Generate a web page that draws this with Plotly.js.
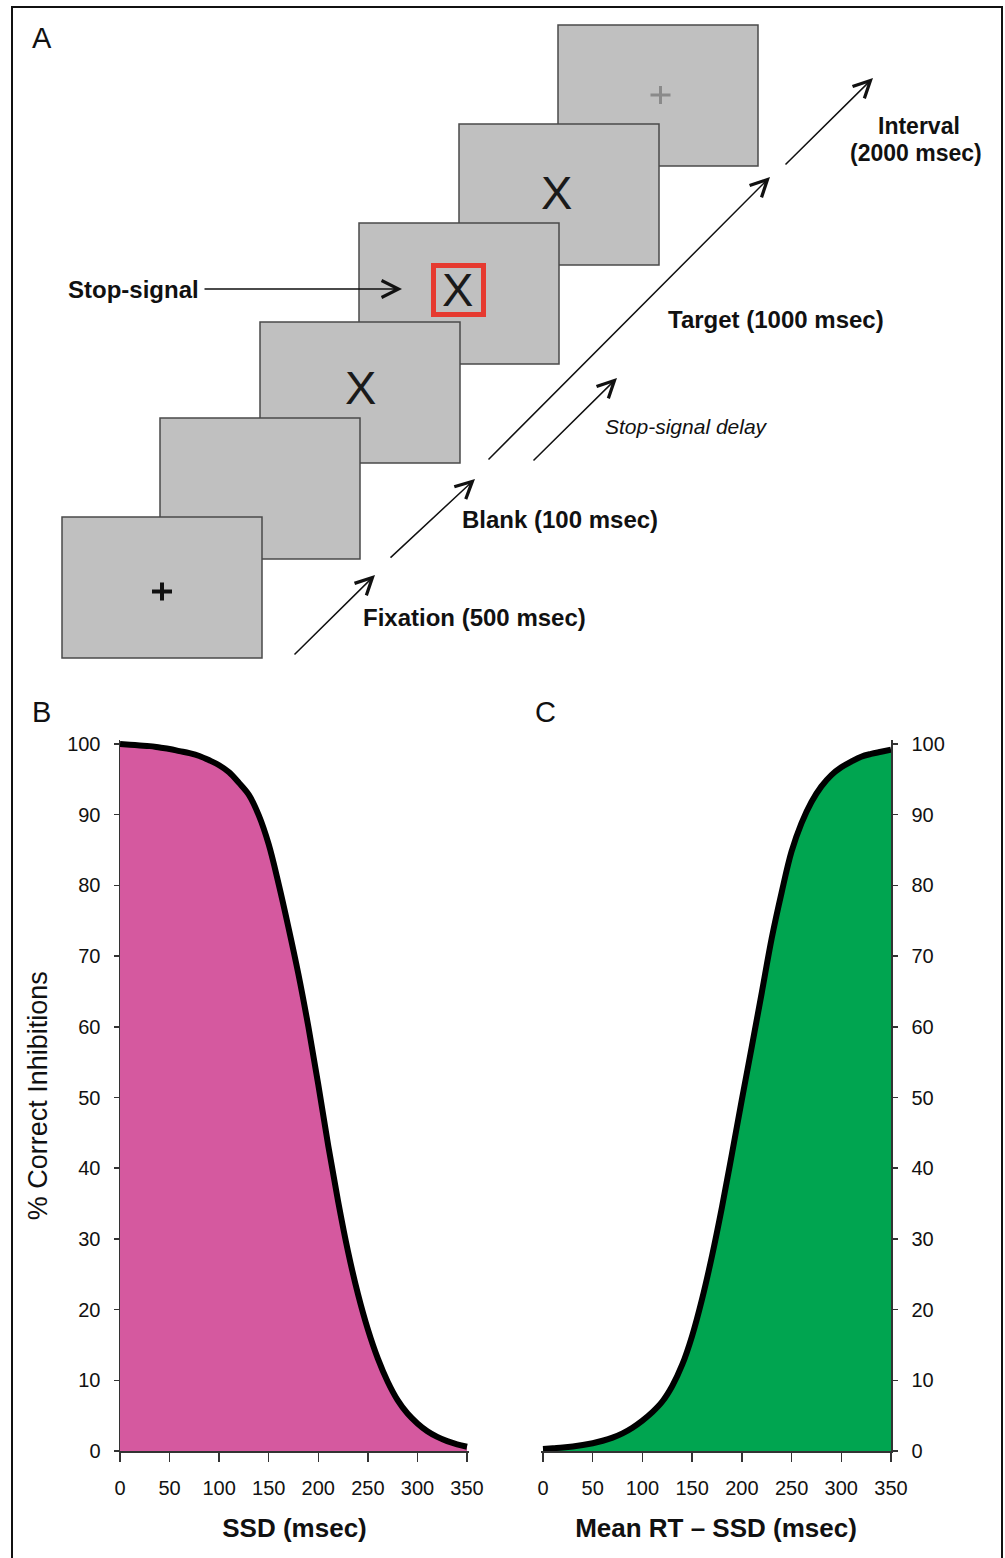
<!DOCTYPE html>
<html><head><meta charset="utf-8">
<script src="https://cdn.plot.ly/plotly-3.0.1.min.js"></script>
<style>html,body{margin:0;padding:0;background:#fff;}#chart{width:1005px;height:1558px;}</style>
</head><body><div id="chart"></div>
<script>
// ---- data ----
const ssdMs = [0,10,20,30,40,50,60,70,80,90,100,110,120,130,140,150,160,170,180,190,200,210,220,230,240,250,260,270,280,290,300,310,320,330,340,350];
const inhibitionB = [100,99.9,99.8,99.7,99.5,99.3,99.0,98.7,98.3,97.7,97.0,96.0,94.5,92.8,89.9,85.8,80.2,74.0,67.4,60.0,51.8,43.2,35.3,28.2,22.2,17.2,13.1,9.8,7.2,5.3,3.9,2.8,2.0,1.4,0.95,0.6];
const rtMinusSsdMs = [0,10,20,30,40,50,60,70,80,90,100,110,120,130,140,150,160,170,180,190,200,210,220,230,240,250,260,270,280,290,300,310,320,330,340,350];
const inhibitionC = [0.3,0.4,0.5,0.65,0.85,1.1,1.45,1.9,2.5,3.3,4.3,5.5,7.0,9.2,12.2,16.3,21.5,27.6,34.5,42.0,49.7,57.2,64.8,72.5,79.0,84.8,88.8,91.8,94.0,95.6,96.7,97.5,98.2,98.6,98.9,99.2];
const xTickVals = [0,50,100,150,200,250,300,350];
const yTickVals = [0,10,20,30,40,50,60,70,80,90,100];
const panelLetters = ['A','B','C'];

// ---- layout helpers ----
const W = 1005, H = 1558;
const px = x => x / W;
const py = y => 1 - y / H;
const FONT = 'Liberation Sans, Arial, Helvetica, sans-serif';
const INK = '#111';
const AXC = '#333';

const traces = [
  {x: ssdMs, y: inhibitionB, xaxis: 'x', yaxis: 'y', type: 'scatter', mode: 'lines',
   line: {color: '#000', width: 6, shape: 'spline', smoothing: 1},
   fill: 'tozeroy', fillcolor: '#d5599f', hoverinfo: 'skip'},
  {x: rtMinusSsdMs, y: inhibitionC, xaxis: 'x2', yaxis: 'y2', type: 'scatter', mode: 'lines',
   line: {color: '#000', width: 6, shape: 'spline', smoothing: 1},
   fill: 'tozeroy', fillcolor: '#00a550', hoverinfo: 'skip'}
];

const yDom = [py(1451), py(1451 - 100.5 * 7.07)];
const common = {
  showgrid: false, zeroline: false, showline: true, linecolor: AXC, linewidth: 1.5,
  ticks: 'outside', tickwidth: 1.5, tickcolor: AXC, fixedrange: true,
  tickfont: {family: FONT, size: 20, color: INK}, tickmode: 'array'
};

// ---- panel A frames (diagram) ----
const frames = [
  {x: 62, y: 517}, {x: 160, y: 418}, {x: 260, y: 322},
  {x: 359, y: 223}, {x: 459, y: 124}, {x: 558, y: 25}
];
const FW = 200, FH = 141;
const shapes = [];
shapes.push({type: 'rect', xref: 'paper', yref: 'paper', x0: px(12), x1: px(1002), y0: py(7), y1: py(1562),
  line: {color: '#111', width: 2}, fillcolor: 'rgba(0,0,0,0)'});
for (let i = frames.length - 1; i >= 0; i--) {
  const f = frames[i];
  shapes.push({type: 'rect', xref: 'paper', yref: 'paper', x0: px(f.x), x1: px(f.x + FW), y0: py(f.y), y1: py(f.y + FH),
    line: {color: '#4a4a4a', width: 1.5}, fillcolor: '#c0c0c0'});
}
// red stop-signal square
shapes.push({type: 'rect', xref: 'paper', yref: 'paper', x0: px(433.5), x1: px(483.5), y0: py(265.5), y1: py(314.5),
  line: {color: '#e63a30', width: 5}, fillcolor: 'rgba(0,0,0,0)'});
// fixation crosses
function plus(cx, cy, half, w, color) {
  shapes.push({type: 'line', xref: 'paper', yref: 'paper', x0: px(cx - half), x1: px(cx + half), y0: py(cy), y1: py(cy), line: {color: color, width: w}});
  shapes.push({type: 'line', xref: 'paper', yref: 'paper', x0: px(cx), x1: px(cx), y0: py(cy - half * 0.9), y1: py(cy + half * 0.9), line: {color: color, width: w}});
}
plus(162, 591.5, 10, 4, '#111');
plus(660.5, 95, 10, 3, '#8a8a8a');

const annotations = [];
function label(text, x, y, size, opt) {
  annotations.push(Object.assign({text: text, x: px(x), y: py(y), xref: 'paper', yref: 'paper', showarrow: false,
    xanchor: 'left', yanchor: 'middle', font: {family: FONT, size: size, color: INK}}, opt || {}));
}
function arrow(x0, y0, x1, y1) {
  annotations.push({x: px(x1), y: py(y1), xref: 'paper', yref: 'paper', ax: x0 - x1, ay: y0 - y1,
    axref: 'pixel', ayref: 'pixel', text: '', showarrow: true, arrowhead: 5, arrowsize: 2.2,
    arrowwidth: 1.5, arrowcolor: INK});
}
// panel letters
label(panelLetters[0], 30, 38, 29);
label(panelLetters[1], 30, 712, 29);
label(panelLetters[2], 533, 712, 29);
// stimuli
label('X', 360, 388, 47, {xanchor: 'center', font: {family: FONT, size: 47, color: '#1a1a1a'}});
label('X', 457.5, 290, 47, {xanchor: 'center', font: {family: FONT, size: 47, color: '#1a1a1a'}});
label('X', 556, 193, 47, {xanchor: 'center', font: {family: FONT, size: 47, color: '#1a1a1a'}});
// labels
label('<b>Stop-signal</b>', 66, 290, 24);
label('<b>Fixation (500 msec)</b>', 361, 618, 24);
label('<b>Blank (100 msec)</b>', 460, 519, 24);
label('<i>Stop-signal delay</i>', 603, 427, 21);
label('<b>Target (1000 msec)</b>', 666, 319, 24);
label('<b>Interval</b>', 919, 126, 23, {xanchor: 'center'});
label('<b>(2000 msec)</b>', 916, 153, 23, {xanchor: 'center'});
// arrows
arrow(203, 289, 402, 289);
arrow(293, 656, 375, 575);
arrow(389, 559, 475, 479);
arrow(487, 461, 770, 177);
arrow(784, 166, 873, 78);
arrow(532, 462, 617, 378);

const layout = {
  width: W, height: H, margin: {l: 0, r: 0, t: 0, b: 0, pad: 0},
  paper_bgcolor: '#fff', plot_bgcolor: 'rgba(0,0,0,0)', showlegend: false,
  font: {family: FONT, color: INK},
  xaxis: Object.assign({}, common, {domain: [px(120), px(469)], range: [0, 352], anchor: 'y',
    tickvals: xTickVals, ticklen: 9, ticklabelstandoff: 9,
    title: {text: '<b>SSD (msec)</b>', font: {family: FONT, size: 26, color: INK}, standoff: 21}}),
  yaxis: Object.assign({}, common, {domain: yDom, range: [0, 100.5], anchor: 'x', side: 'left',
    tickvals: yTickVals, ticklen: 5, ticklabelstandoff: 9,
    title: {text: '% Correct Inhibitions', font: {family: FONT, size: 27, color: INK}, standoff: 11}}),
  xaxis2: Object.assign({}, common, {domain: [px(541), px(891)], range: [-2, 350], anchor: 'y2',
    tickvals: xTickVals, ticklen: 9, ticklabelstandoff: 9,
    title: {text: '<b>Mean RT – SSD (msec)</b>', font: {family: FONT, size: 26, color: INK}, standoff: 21}}),
  yaxis2: Object.assign({}, common, {domain: yDom, range: [0, 100.5], anchor: 'x2', side: 'right',
    tickvals: yTickVals, ticklen: 5, ticklabelstandoff: 10}),
  shapes: shapes,
  annotations: annotations
};

Plotly.newPlot('chart', traces, layout, {staticPlot: true, displayModeBar: false});
</script>
</body></html>
